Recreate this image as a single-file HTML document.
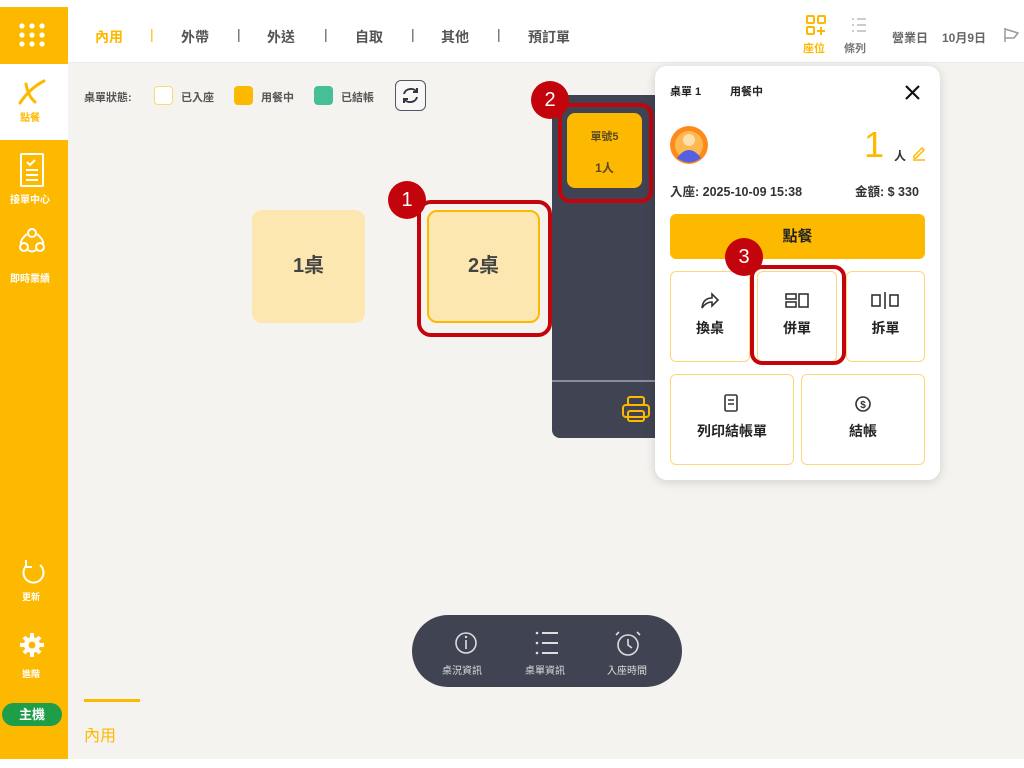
<!DOCTYPE html>
<html><head><meta charset="utf-8"><style>
*{margin:0;padding:0;box-sizing:border-box}
body{width:1024px;height:768px;background:#fff;position:relative;overflow:hidden;font-family:"Liberation Sans","Noto Sans CJK TC",sans-serif;}
.a{position:absolute}
.t{position:absolute;white-space:nowrap;font-weight:bold}
</style></head><body>
<div class="a" style="left:68px;top:63px;width:956px;height:696px;background:#f4f3f0"></div>
<div class="a" style="left:68px;top:7px;width:956px;height:56px;background:#fff;border-bottom:1px solid #ebebeb"></div>
<div class="a" style="left:0;top:7px;width:68px;height:752px;background:#fdb900"></div>
<div class="a" style="left:0;top:64px;width:68px;height:76px;background:#fff"></div>
<svg class="a" style="left:0;top:0" width="1024" height="768">
 <g fill="#fff">
  <circle cx="22" cy="26" r="2.6"/><circle cx="32" cy="26" r="2.6"/><circle cx="42" cy="26" r="2.6"/>
  <circle cx="22" cy="35" r="2.6"/><circle cx="32" cy="35" r="2.6"/><circle cx="42" cy="35" r="2.6"/>
  <circle cx="22" cy="44" r="2.6"/><circle cx="32" cy="44" r="2.6"/><circle cx="42" cy="44" r="2.6"/>
 </g>
 <path d="M20 103 Q30 88 44 81 M26 84 Q28 96 35 102" stroke="#fdb900" stroke-width="3" fill="none" stroke-linecap="round"/>
 <g stroke="#fff" stroke-width="2" fill="none">
  <rect x="21" y="154" width="22" height="32" rx="1"/>
  <path d="M27 162l3 3 5-5 M26 170h12 M26 175h12 M26 180h12"/>
  <circle cx="32" cy="233" r="4"/><circle cx="24" cy="247" r="4"/><circle cx="40" cy="247" r="4"/>
  <path d="M27 234 Q20 240 21 244 M37 234 Q44 240 43 244 M28 250 Q32 253 36 250"/>
  <path d="M40 565 A10 10 0 1 1 26 566 M26 560v7h6" />
 </g>
 <g fill="#fff"><circle cx="32" cy="645" r="8"/></g>
 <g stroke="#fff" stroke-width="4"><path d="M32 633v24M20 645h24M24 637l16 16M40 637l-16 16"/></g>
 <circle cx="32" cy="645" r="3.5" fill="#fdb900"/>
</svg>
<div class="t" style="left:20px;top:109px;font-size:10px;color:#fdb900">點餐</div>
<div class="t" style="left:10px;top:191px;font-size:10px;color:#fff">接單中心</div>
<div class="t" style="left:10px;top:270px;font-size:10px;color:#fff">即時業績</div>
<div class="t" style="left:22px;top:590px;font-size:9px;color:#fff">更新</div>
<div class="t" style="left:22px;top:667px;font-size:9px;color:#fff">進階</div>
<div class="a" style="left:2px;top:703px;width:60px;height:23px;border-radius:12px;background:#1f9e4a;color:#fff;font-weight:bold;font-size:13px;text-align:center;line-height:23px">主機</div>
<div class="t" style="left:95px;top:27px;font-size:14px;color:#fdb900">內用</div>
<div class="t" style="left:150px;top:26px;font-size:14px;color:#fdb900;font-weight:normal">|</div>
<div class="t" style="left:181px;top:27px;font-size:14px;color:#555">外帶</div>
<div class="t" style="left:237px;top:26px;font-size:14px;color:#555;font-weight:normal">|</div>
<div class="t" style="left:267px;top:27px;font-size:14px;color:#555">外送</div>
<div class="t" style="left:324px;top:26px;font-size:14px;color:#555;font-weight:normal">|</div>
<div class="t" style="left:355px;top:27px;font-size:14px;color:#555">自取</div>
<div class="t" style="left:411px;top:26px;font-size:14px;color:#555;font-weight:normal">|</div>
<div class="t" style="left:441px;top:27px;font-size:14px;color:#555">其他</div>
<div class="t" style="left:497px;top:26px;font-size:14px;color:#555;font-weight:normal">|</div>
<div class="t" style="left:528px;top:27px;font-size:14px;color:#555">預訂單</div>
<svg class="a" style="left:800px;top:10px" width="224" height="40">
 <g stroke="#fdb900" stroke-width="2" fill="none"><rect x="7" y="6" width="7" height="7" rx="1"/><rect x="18" y="6" width="7" height="7" rx="1"/><rect x="7" y="17" width="7" height="7" rx="1"/><path d="M21 17v8M17 21h8"/></g>
 <g stroke="#bbb" stroke-width="1.5"><path d="M52 9h2M57 9h9M52 15h2M57 15h9M52 21h2M57 21h9"/></g>
 <path d="M205 18v14M205 19l13 4-4 5h-9" stroke="#999" stroke-width="1.5" fill="none"/>
</svg>
<div class="t" style="left:803px;top:40px;font-size:11px;color:#fdb900">座位</div>
<div class="t" style="left:844px;top:40px;font-size:11px;color:#777">條列</div>
<div class="t" style="left:892px;top:29px;font-size:12px;color:#666">營業日</div>
<div class="t" style="left:942px;top:29px;font-size:12px;color:#666">10月9日</div>
<div class="t" style="left:84px;top:89px;font-size:11px;color:#555">桌單狀態:</div>
<div class="a" style="left:154px;top:86px;width:19px;height:19px;border:1.5px solid #fdd77a;border-radius:4px;background:#fff"></div>
<div class="t" style="left:181px;top:89px;font-size:11px;color:#555">已入座</div>
<div class="a" style="left:234px;top:86px;width:19px;height:19px;border-radius:4px;background:#fdb900"></div>
<div class="t" style="left:261px;top:89px;font-size:11px;color:#555">用餐中</div>
<div class="a" style="left:314px;top:86px;width:19px;height:19px;border-radius:4px;background:#47bf96"></div>
<div class="t" style="left:341px;top:89px;font-size:11px;color:#555">已結帳</div>
<div class="a" style="left:395px;top:80px;width:31px;height:31px;border-radius:6px;border:1.5px solid #556;background:#f7f7f7"></div>
<svg class="a" style="left:395px;top:80px" width="31" height="31"><g stroke="#334" stroke-width="2" fill="none"><path d="M9 14a7 6 0 0 1 13-2M22 17a7 6 0 0 1-13 2"/><path d="M22 8v4h-4M9 23v-4h4"/></g></svg>
<div class="a" style="left:252px;top:210px;width:113px;height:113px;border-radius:10px;background:#fde7b0;text-align:center;line-height:113px;font-size:20px;font-weight:bold;color:#444">1桌</div>
<div class="a" style="left:427px;top:210px;width:113px;height:113px;border-radius:10px;background:#fde7b0;border:2px solid #fdb900;text-align:center;line-height:109px;font-size:20px;font-weight:bold;color:#444">2桌</div>
<div class="a" style="left:417px;top:200px;width:135px;height:137px;border-radius:14px;border:4px solid #c4040c"></div>
<div class="a" style="left:552px;top:95px;width:110px;height:343px;border-radius:8px;background:#3f4352"></div>
<div class="a" style="left:552px;top:380px;width:108px;height:2px;background:#8a8e9a"></div>
<svg class="a" style="left:620px;top:395px" width="40" height="32"><g stroke="#fdb900" stroke-width="2" fill="none"><rect x="8" y="2" width="16" height="8" rx="2"/><rect x="3" y="10" width="26" height="12" rx="3"/><rect x="8" y="16" width="16" height="10" rx="2"/></g></svg>
<div class="a" style="left:567px;top:113px;width:75px;height:75px;border-radius:8px;background:#fdb900"></div>
<div class="t" style="left:567px;top:128px;width:75px;text-align:center;font-size:11px;color:#5a4a20">單號5</div>
<div class="t" style="left:567px;top:159px;width:75px;text-align:center;font-size:12px;color:#5a4a20">1人</div>
<div class="a" style="left:558px;top:103px;width:95px;height:100px;border-radius:12px;border:4px solid #c4040c"></div>
<div class="a" style="left:655px;top:66px;width:285px;height:414px;border-radius:12px;background:#fff;box-shadow:0 2px 10px rgba(0,0,0,.15)"></div>
<div class="t" style="left:670px;top:83px;font-size:11px;color:#222">桌單 1</div>
<div class="t" style="left:730px;top:83px;font-size:11px;color:#222">用餐中</div>
<svg class="a" style="left:900px;top:80px" width="26" height="26"><path d="M6 6l13 13M19 6L6 19" stroke="#111" stroke-width="2.2"/></svg>
<svg class="a" style="left:669px;top:125px" width="40" height="40"><circle cx="20" cy="20" r="19" fill="#fd8a1a"/><circle cx="20" cy="20" r="14" fill="#fdb950"/><circle cx="20" cy="15" r="6" fill="#fde0b0"/><path d="M8 33 Q20 17 32 33 Q20 42 8 33z" fill="#5560e0"/></svg>
<div class="t" style="left:864px;top:124px;font-size:36px;color:#fdb900;font-weight:normal">1</div>
<div class="t" style="left:894px;top:147px;font-size:12px;color:#333">人</div>
<svg class="a" style="left:910px;top:144px" width="18" height="18"><path d="M4 12l8-8 2 2-8 8H4z M3 16h12" stroke="#fdb900" stroke-width="1.5" fill="none"/></svg>
<div class="t" style="left:670px;top:181px;font-size:12.5px;color:#333">入座: 2025-10-09 15:38</div>
<div class="t" style="left:855px;top:181px;font-size:12.5px;color:#333">金額: $ 330</div>
<div class="a" style="left:670px;top:214px;width:255px;height:45px;border-radius:6px;background:#fdb900;text-align:center;line-height:45px;font-size:15px;font-weight:bold;color:#222">點餐</div>
<div class="a" style="left:670px;top:271px;width:80px;height:91px;border:1.5px solid #fdd77a;border-radius:6px"></div>
<div class="a" style="left:757px;top:271px;width:80px;height:91px;border:1.5px solid #fdd77a;border-radius:6px"></div>
<div class="a" style="left:846px;top:271px;width:79px;height:91px;border:1.5px solid #fdd77a;border-radius:6px"></div>
<div class="a" style="left:670px;top:374px;width:124px;height:91px;border:1.5px solid #fdd77a;border-radius:6px"></div>
<div class="a" style="left:801px;top:374px;width:124px;height:91px;border:1.5px solid #fdd77a;border-radius:6px"></div>
<svg class="a" style="left:0;top:0" width="1024" height="768">
 <g stroke="#333" stroke-width="1.6" fill="none">
  <path d="M702 308 Q703 298 712 298 V294 L718 300 L712 306 V302 Q706 302 702 308z"/>
  <rect x="786" y="294" width="10" height="5"/><rect x="786" y="302" width="10" height="5"/><rect x="799" y="294" width="9" height="13"/>
  <rect x="872" y="295" width="8" height="11"/><path d="M885 292v17"/><rect x="890" y="295" width="8" height="11"/>
  <rect x="725" y="395" width="12" height="16" rx="1.5"/><path d="M728 400h6M728 404h6"/>
  <circle cx="863" cy="404" r="7"/>
 </g>
 <text x="863" y="408" font-size="10" text-anchor="middle" font-weight="bold" fill="#333" font-family="Liberation Sans">$</text>
</svg>
<div class="t" style="left:670px;top:318px;width:80px;text-align:center;font-size:14px;color:#222">換桌</div>
<div class="t" style="left:757px;top:318px;width:80px;text-align:center;font-size:14px;color:#222">併單</div>
<div class="t" style="left:846px;top:318px;width:79px;text-align:center;font-size:14px;color:#222">拆單</div>
<div class="t" style="left:670px;top:421px;width:124px;text-align:center;font-size:14px;color:#222">列印結帳單</div>
<div class="t" style="left:801px;top:421px;width:124px;text-align:center;font-size:14px;color:#222">結帳</div>
<div class="a" style="left:750px;top:265px;width:96px;height:100px;border-radius:12px;border:4px solid #c4040c"></div>
<div class="a" style="left:388px;top:181px;width:38px;height:38px;border-radius:50%;background:#c4040c;color:#fff;text-align:center;line-height:38px;font-size:20px">1</div>
<div class="a" style="left:531px;top:81px;width:38px;height:38px;border-radius:50%;background:#c4040c;color:#fff;text-align:center;line-height:38px;font-size:20px">2</div>
<div class="a" style="left:725px;top:238px;width:38px;height:38px;border-radius:50%;background:#c4040c;color:#fff;text-align:center;line-height:38px;font-size:20px">3</div>
<div class="a" style="left:412px;top:615px;width:270px;height:72px;border-radius:36px;background:#3f4352"></div>
<svg class="a" style="left:412px;top:615px" width="270" height="72">
 <g stroke="#ddd" stroke-width="1.6" fill="none">
  <circle cx="54" cy="28" r="10"/><path d="M54 25v9"/>
  <path d="M130 18h16M130 28h16M130 38h16" stroke-width="2"/>
  <circle cx="216" cy="30" r="10"/><path d="M216 24v6l4 3M207 17l-3 3M225 17l3 3"/>
 </g>
 <circle cx="54" cy="22" r="1.2" fill="#ddd"/>
 <g fill="#ddd"><circle cx="125" cy="18" r="1.3"/><circle cx="125" cy="28" r="1.3"/><circle cx="125" cy="38" r="1.3"/></g>
</svg>
<div class="t" style="left:442px;top:662px;font-size:10px;color:#ddd;font-weight:normal">桌況資訊</div>
<div class="t" style="left:525px;top:662px;font-size:10px;color:#ddd;font-weight:normal">桌單資訊</div>
<div class="t" style="left:607px;top:662px;font-size:10px;color:#ddd;font-weight:normal">入座時間</div>
<div class="a" style="left:84px;top:699px;width:56px;height:3px;background:#fdb900"></div>
<div class="t" style="left:84px;top:722px;font-size:16px;color:#fdb900;font-weight:normal">內用</div>
</body></html>
